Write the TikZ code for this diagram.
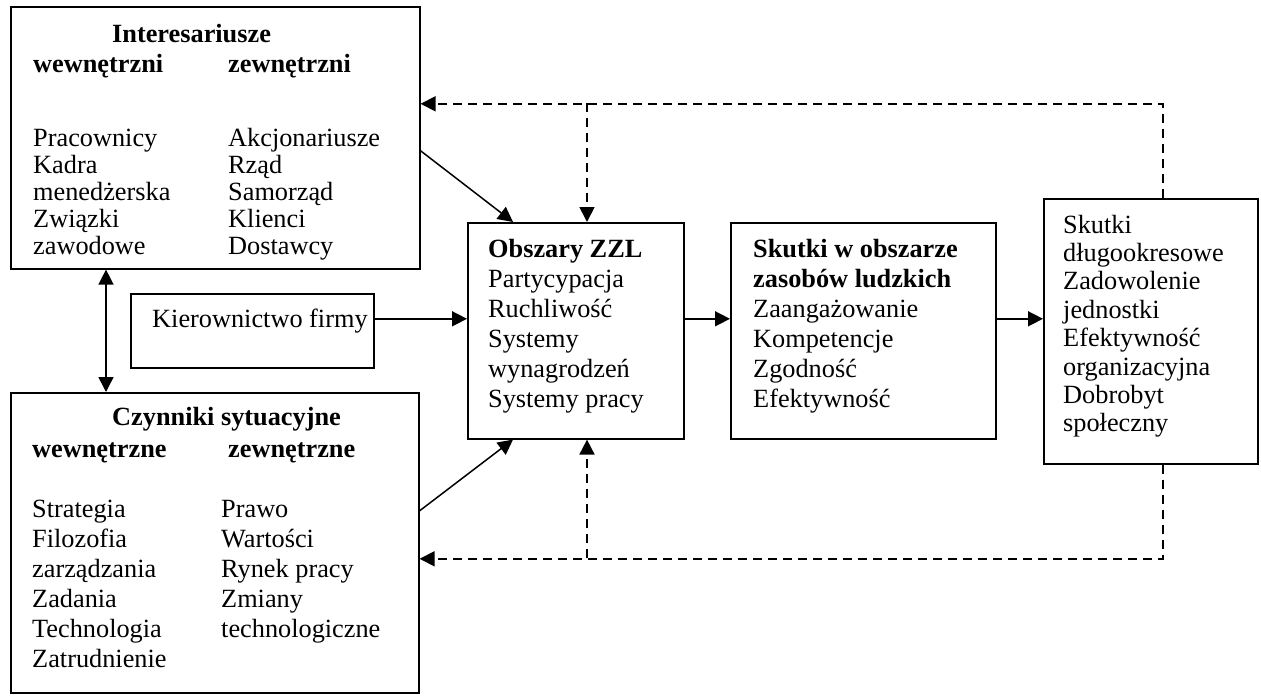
\documentclass[tikz,border=0pt]{standalone}
\usepackage{fontspec}
\setmainfont{Liberation Serif}
\usetikzlibrary{arrows.meta,calc}
\begin{document}
\begin{tikzpicture}[x=1pt,y=-1pt,
  box/.style={draw,line width=1.6pt,rectangle,anchor=north west,inner sep=0pt},
  txt/.style={anchor=base west,inner sep=0pt,font=\fontsize{26.3}{30}\selectfont},
  hd/.style={txt,font=\fontsize{26.3}{30}\selectfont\bfseries},
  tip/.tip={Triangle[length=15pt,width=15pt]},
  arr/.style={line width=1.5pt,-tip},
  darr/.style={line width=1.5pt,tip-tip},
  fb/.style={line width=1.8pt,dash pattern=on 9pt off 6pt},
  fbarr/.style={fb,-tip}]
\useasboundingbox (0,0) rectangle (1261,699);

% boxes
\node[box,minimum width=409pt,minimum height=262pt] (intbox) at (10,6) {};
\node[box,minimum width=408pt,minimum height=300pt] (czbox) at (10,392) {};
\node[box,minimum width=243pt,minimum height=74pt] (kier) at (130,293) {};
\node[box,minimum width=216pt,minimum height=216pt] (obsz) at (467,222) {};
\node[box,minimum width=265pt,minimum height=216pt] (sk) at (730,222) {};
\node[box,minimum width=214pt,minimum height=265pt] (rbox) at (1043,198) {};

% stakeholders
\node[hd] (intT) at (112,42) {Interesariusze};
\node[hd] (intW) at (33,72) {wewnętrzni};
\node[hd] (intZ) at (228,72) {zewnętrzni};
\foreach \t [count=\i] in {Pracownicy,Kadra,menedżerska,Związki,zawodowe}
  \node[txt] (intL\i) at (33,{146+27*(\i-1)}) {\t};
\foreach \t [count=\i] in {Akcjonariusze,Rząd,Samorząd,Klienci,Dostawcy}
  \node[txt] (intR\i) at (228,{146+27*(\i-1)}) {\t};

% situational factors
\node[hd] (czT) at (112,425) {Czynniki sytuacyjne};
\node[hd] (czW) at (32,457) {wewnętrzne};
\node[hd] (czZ) at (228,457) {zewnętrzne};
\foreach \t [count=\i] in {Strategia,Filozofia,zarządzania,Zadania,Technologia,Zatrudnienie}
  \node[txt] (czL\i) at (32,{517+30*(\i-1)}) {\t};
\foreach \t [count=\i] in {Prawo,Wartości,Rynek pracy,Zmiany,technologiczne}
  \node[txt] (czR\i) at (221,{517+30*(\i-1)}) {\t};

% management
\node[txt] (kierT) at (152,327) {Kierownictwo firmy};

% HRM areas
\node[hd] (obT) at (488,257) {Obszary ZZL};
\foreach \t [count=\i] in {Partycypacja,Ruchliwość,Systemy,wynagrodzeń,Systemy pracy}
  \node[txt] (obL\i) at (488,{287+30*(\i-1)}) {\t};

% HR outcomes
\node[hd] (skT1) at (753,257) {Skutki w obszarze};
\node[hd] (skT2) at (753,287) {zasobów ludzkich};
\foreach \t [count=\i] in {Zaangażowanie,Kompetencje,Zgodność,Efektywność}
  \node[txt] (skL\i) at (753,{317+30*(\i-1)}) {\t};

% long-term consequences
\foreach \t [count=\i] in {Skutki,długookresowe,Zadowolenie,jednostki,Efektywność,organizacyjna,Dobrobyt,społeczny}
  \node[txt] (rL\i) at (1063,{233+28.4*(\i-1)}) {\t};

% solid connectors
\draw[arr] ($(intbox.east)+(0,13)$) -- ($(obsz.north west)+(46,0)$);
\draw[arr] ($(czbox.east)+(0,-32)$) -- ($(obsz.south west)+(46,0)$);
\draw[arr] ($(kier.east)+(0,-12)$) -- ($(kier.east -| obsz.west)+(0,-12)$);
\draw[arr] ($(obsz.east)+(0,-12)$) -- ($(obsz.east -| sk.west)+(0,-12)$);
\draw[arr] ($(sk.east)+(0,-12)$) -- ($(sk.east -| rbox.west)+(0,-12)$);
\draw[darr] ($(intbox.south west)+(96,0)$) -- ($(czbox.north west)+(96,0)$);

% feedback loops
\coordinate (topJ) at (587,103);
\coordinate (botJ) at (587,558);
\draw[fbarr] ($(rbox.north west)+(120,0)$) |- ($(intbox.east)+(0,-34)$);
\draw[fbarr] (topJ) -- ($(obsz.north west)+(120,0)$);
\draw[fbarr] ($(rbox.south west)+(120,0)$) |- ($(czbox.east)+(0,16)$);
\draw[fbarr] (botJ) -- ($(obsz.south west)+(120,0)$);
\end{tikzpicture}
\end{document}
